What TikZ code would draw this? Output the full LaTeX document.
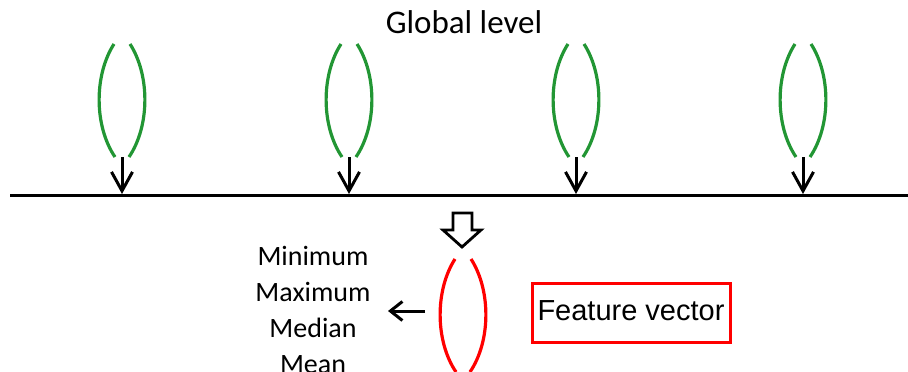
\documentclass[tikz,border=0pt]{standalone}
\usepackage{fontspec}
\setmainfont{Carlito}
\newfontfamily\arialfont{Liberation Sans}
\usetikzlibrary{arrows.meta}
\definecolor{lensgreen}{RGB}{34,150,52}
\definecolor{lensred}{RGB}{255,0,0}
\tikzset{
  lensline/.style={line width=3.2pt, line cap=butt},
  droparrow/.style={line width=3pt, -{Straight Barb[length=19pt,width=21pt,line width=3pt]}},
  sidearrow/.style={line width=3pt, -{Straight Barb[length=12pt,width=19pt,line width=3pt]}},
  statlabel/.style={anchor=base, inner sep=0pt, font=\fontsize{28}{36}\selectfont},
}
% one lens: two facing arcs, centred at (#1,#2)
\newcommand{\lensat}[3]{%
  \draw[lensline,#3] (#1-8,#2-56) .. controls (#1-28,#2-25) and (#1-28,#2+26) .. (#1-7,#2+57);
  \draw[lensline,#3] (#1+8,#2-56) .. controls (#1+28,#2-25) and (#1+28,#2+26) .. (#1+7,#2+57);
}
\begin{document}
\begin{tikzpicture}[x=1pt,y=-1pt]
\useasboundingbox (0,0) rectangle (908,372);

\node[anchor=base, inner sep=0pt, font=\fontsize{33}{40}\selectfont] (title) at (464,33) {Global level};

% baseline
\coordinate (lineL) at (10,195);
\coordinate (lineR) at (908,195);
\draw[line width=3pt] (lineL) -- (lineR);

% global-level lenses with arrows down to the line
\foreach \cx [count=\i] in {122,349,576,803} {
  \lensat{\cx}{100}{lensgreen}
  \coordinate (top\i) at (\cx,157);
  \coordinate (hit\i) at (\cx,194);
  \draw[droparrow] (top\i) -- (hit\i);
}

% hollow arrow
\draw[line width=2.8pt, line join=miter] (453,213) -- (472,213) -- (472,230) -- (481,230) -- (462,247) -- (443,230) -- (453,230) -- cycle;

% red lens
\lensat{463}{315}{lensred}

% arrow to the statistics
\coordinate (lensL) at (425,311);
\coordinate (statR) at (388,311);
\draw[sidearrow] (lensL) -- (statR);

\node[statlabel] (smin) at (313,265) {Minimum};
\node[statlabel] (smax) at (313,301) {Maximum};
\node[statlabel] (smed) at (313,337) {Median};
\node[statlabel] (smean) at (313,373) {Mean};

% feature vector box
\node[draw=lensred, line width=3pt, minimum width=198pt, minimum height=59pt, inner sep=0pt,
      font=\arialfont\fontsize{29}{34}\selectfont, text height=15pt, text depth=0pt] (fv) at (631,312.5) {Feature vector};
\end{tikzpicture}
\end{document}
